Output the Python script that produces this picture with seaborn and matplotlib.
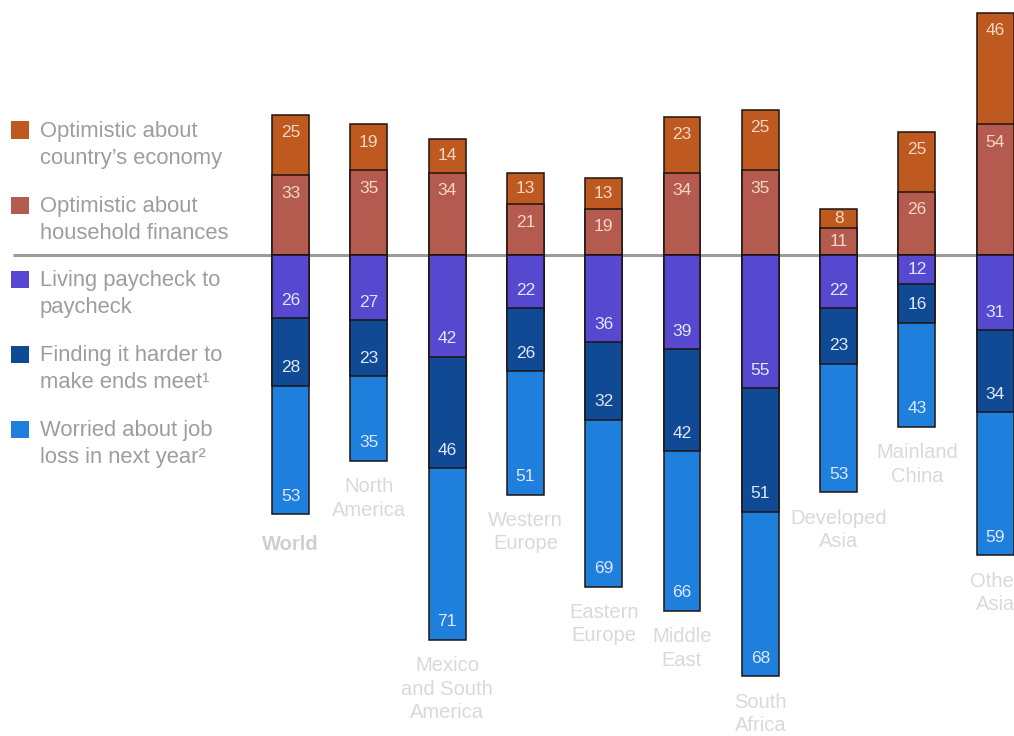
import matplotlib
matplotlib.use("Agg")
import matplotlib.pyplot as plt
import seaborn as sns
import numpy as np
from matplotlib.patches import Rectangle

# ---- data ----
regions = ["World", "North America", "Mexico and South America", "Western Europe",
           "Eastern Europe", "Middle East", "South Africa", "Developed Asia",
           "Mainland China", "Other Asia"]
region_labels = ["World", "North\nAmerica", "Mexico\nand South\nAmerica", "Western\nEurope",
                 "Eastern\nEurope", "Middle\nEast", "South\nAfrica", "Developed\nAsia",
                 "Mainland\nChina", "Other\nAsia"]
optimistic_economy = [25, 19, 14, 13, 13, 23, 25, 8, 25, 46]
optimistic_household = [33, 35, 34, 21, 19, 34, 35, 11, 26, 54]
living_paycheck = [26, 27, 42, 22, 36, 39, 55, 22, 12, 31]
harder_ends_meet = [28, 23, 46, 26, 32, 42, 51, 23, 16, 34]
worried_job_loss = [53, 35, 71, 51, 69, 66, 68, 53, 43, 59]

legend_labels = ["Optimistic about\ncountry\u2019s economy",
                 "Optimistic about\nhousehold finances",
                 "Living paycheck to\npaycheck",
                 "Finding it harder to\nmake ends meet\u00b9",
                 "Worried about job\nloss in next year\u00b2"]

# ---- style ----
c_econ = "#BE591F"
c_house = "#B55A4F"
c_pay = "#5648CF"
c_hard = "#114A94"
c_job = "#1E7FDD"
colors = [c_econ, c_house, c_pay, c_hard, c_job]
edge = "#1f1410"

sns.set_style("white")
plt.rcParams["font.family"] = ["Liberation Sans", "DejaVu Sans"]

fig = plt.figure(figsize=(10.14, 7.36), dpi=100)
ax = fig.add_axes([0, 0, 1, 1])

econ = np.array(optimistic_economy)
house = np.array(optimistic_household)
pay = np.array(living_paycheck)
hard = np.array(harder_ends_meet)
job = np.array(worried_job_loss)

barw = 0.47
common = dict(width=barw, edgecolor=edge, linewidth=1.1, saturation=1, ax=ax, zorder=3)
# positive stack (cumulative, largest first)
sns.barplot(x=regions, y=econ + house, color=c_econ, **common)
sns.barplot(x=regions, y=house, color=c_house, **common)
# negative stack
sns.barplot(x=regions, y=-(pay + hard + job), color=c_job, **common)
sns.barplot(x=regions, y=-(pay + hard), color=c_hard, **common)
sns.barplot(x=regions, y=-pay, color=c_pay, **common)

scale = 2.42  # px per unit
ax.set_ylim(-(736 - 255) / scale, 255 / scale)
x0, step = 290.5, 78.3
ax.set_xlim((0 - x0) / step, (1014 - x0) / step)
ax.axis("off")

# baseline
ax.hlines(0, (13 - x0) / step, (1014 - x0) / step, color="#9b9b9b", lw=2.2, zorder=2)

# value labels
pos_col = "#f4d6c4"
neg_col = "#dfe7fb"
inset = 7.4
fs_val = 12.5
for i in range(len(regions)):
    # positive
    top_house = house[i]
    y = top_house - min(inset, house[i] / 2)
    ax.text(i, y, str(house[i]), ha="center", va="center", color=pos_col, fontsize=fs_val, zorder=5)
    top_econ = house[i] + econ[i]
    y = top_econ - min(inset, econ[i] / 2)
    ax.text(i, y, str(econ[i]), ha="center", va="center", color=pos_col, fontsize=fs_val, zorder=5)
    # negative
    b = -pay[i]
    ax.text(i, b + min(inset, pay[i] / 2), str(pay[i]), ha="center", va="center", color=neg_col, fontsize=fs_val, zorder=5)
    b = -(pay[i] + hard[i])
    ax.text(i, b + min(inset, hard[i] / 2), str(hard[i]), ha="center", va="center", color=neg_col, fontsize=fs_val, zorder=5)
    b = -(pay[i] + hard[i] + job[i])
    ax.text(i, b + min(inset, job[i] / 2), str(job[i]), ha="center", va="center", color=neg_col, fontsize=fs_val, zorder=5)
    # region label
    bold = regions[i] == "World"
    ax.annotate(region_labels[i], xy=(i, b), xytext=(0, -12 if not bold else -15),
                textcoords="offset points", ha="center", va="top",
                fontsize=14.5, color="#d9d9d9" if not bold else "#cfcfcf",
                fontweight="bold" if bold else "normal", linespacing=1.28)

# legend (manual)
W, H = 1014, 736
entry_y = [130, 205, 279, 354, 429]
for yc, lab, col in zip(entry_y, legend_labels, colors):
    fig.patches.append(Rectangle((11 / W, 1 - (yc + 8.5) / H), 18 / W, 17 / H,
                                 transform=fig.transFigure, facecolor=col, edgecolor="none"))
    fig.text(40 / W, 1 - (yc - 9) / H, lab, ha="left", va="top", fontsize=15.8,
             color="#9d9d9d", linespacing=1.4)

fig.savefig("out.png", dpi=100)
